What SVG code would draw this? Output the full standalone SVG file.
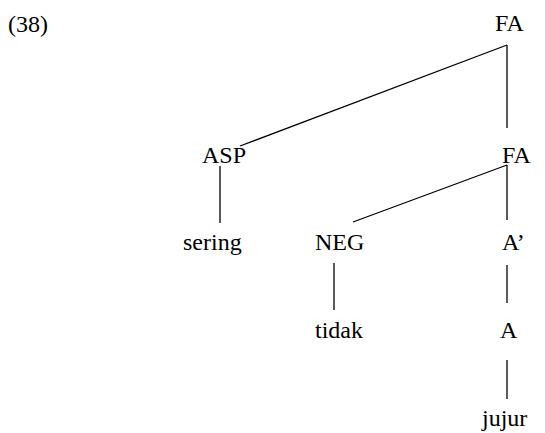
<svg xmlns="http://www.w3.org/2000/svg" width="545" height="433" viewBox="0 0 545 433">
<style>
text{font-family:"Liberation Serif","Times New Roman",serif;font-size:24px;fill:#000}
.e{stroke:#000;stroke-width:1.3;fill:none}
</style>
<rect width="545" height="433" fill="#fff"/>
<text x="8" y="32">(38)</text>
<g id="connectors">
<line class="e" x1="507" y1="45" x2="240" y2="146"/>
<line class="e" x1="507" y1="45" x2="507" y2="128"/>
<line class="e" x1="220" y1="166" x2="220" y2="223"/>
<line class="e" x1="507" y1="165" x2="353" y2="222"/>
<line class="e" x1="507" y1="165" x2="507" y2="220"/>
<line class="e" x1="334" y1="263" x2="334" y2="310"/>
<line class="e" x1="507" y1="265" x2="507" y2="303"/>
<line class="e" x1="507" y1="360" x2="507" y2="399"/>
</g>
<g id="fa1"><text x="495" y="31">FA</text></g>
<g id="asp"><text x="202" y="163">ASP</text></g>
<g id="fa2"><text x="502" y="163">FA</text></g>
<g id="sering"><text x="183" y="250">sering</text></g>
<g id="neg"><text x="315" y="250">NEG</text></g>
<g id="abar"><text x="502" y="250">A’</text></g>
<g id="tidak"><text x="315" y="338">tidak</text></g>
<g id="a"><text x="500" y="338">A</text></g>
<g id="jujur"><text x="482" y="426">jujur</text></g>
</svg>
